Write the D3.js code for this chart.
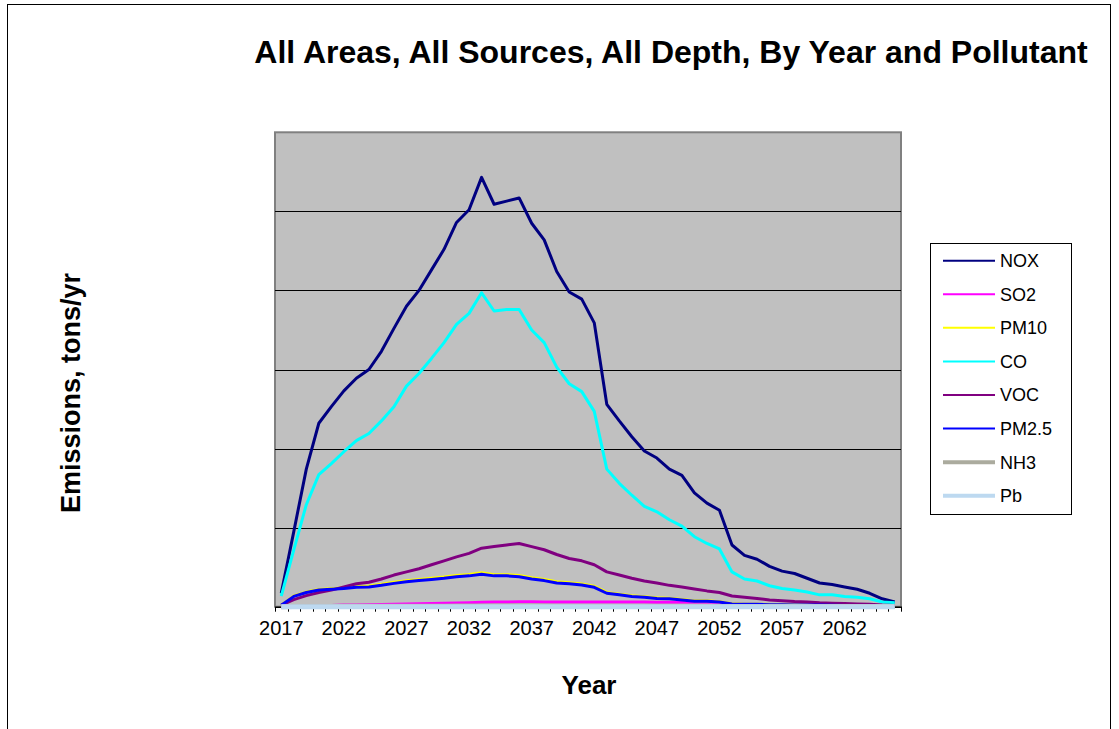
<!DOCTYPE html>
<html><head><meta charset="utf-8">
<script src="https://cdn.jsdelivr.net/npm/d3@7"></script>
<style>
html,body{margin:0;padding:0;background:#fff;}
svg{display:block;}
text{font-family:"Liberation Sans",Arial,Helvetica,sans-serif;fill:#000;}
</style></head>
<body><svg id="chart" width="1119" height="729"></svg>
<script>
const years = d3.range(2017, 2067);
const tickYears = [2017, 2022, 2027, 2032, 2037, 2042, 2047, 2052, 2057, 2062];
const seriesNames = ["NOX", "SO2", "PM10", "CO", "VOC", "PM2.5", "NH3", "Pb"];
const seriesColors = ["#000080", "#FF00FF", "#FFFF00", "#00FFFF", "#800080", "#0000FF", "#ABAB9E", "#BDD9F0"];

const NOX = [170, 950, 1740, 2320, 2530, 2730, 2890, 3000, 3230, 3520, 3800, 4000, 4260, 4520, 4860, 5020, 5430, 5090, 5130, 5170, 4850, 4640, 4240, 3980, 3890, 3590, 2560, 2350, 2150, 1970, 1880, 1740, 1660, 1440, 1310, 1220, 780, 650, 600, 510, 450, 420, 360, 300, 280, 250, 220, 170, 100, 60];
const SO2 = [0, 5, 10, 13, 16, 20, 22, 25, 28, 30, 33, 36, 40, 43, 46, 50, 55, 58, 60, 62, 62, 61, 60, 60, 60, 60, 59, 59, 58, 58, 57, 57, 56, 56, 55, 55, 15, 12, 10, 10, 9, 8, 8, 7, 6, 6, 5, 4, 3, 2];
const PM10 = [20, 135, 185, 218, 228, 240, 255, 262, 283, 308, 328, 345, 360, 376, 396, 407, 428, 405, 405, 396, 365, 345, 315, 303, 288, 258, 180, 158, 138, 127, 112, 106, 90, 75, 74, 64, 38, 32, 32, 27, 26, 23, 21, 21, 19, 16, 16, 13, 11, 9];
const CO = [135, 720, 1290, 1670, 1810, 1960, 2100, 2190, 2350, 2530, 2790, 2950, 3140, 3340, 3570, 3710, 3970, 3740, 3760, 3760, 3500, 3340, 3030, 2820, 2720, 2470, 1740, 1560, 1410, 1270, 1200, 1100, 1020, 885, 800, 730, 440, 350, 325, 265, 230, 210, 185, 150, 150, 130, 120, 100, 60, 50];
const VOC = [20, 90, 140, 180, 210, 250, 290, 310, 350, 400, 440, 480, 530, 580, 630, 675, 740, 760, 780, 800, 760, 720, 660, 610, 580, 530, 440, 400, 360, 325, 300, 270, 250, 225, 200, 180, 135, 120, 105, 85, 75, 65, 60, 50, 45, 40, 35, 30, 20, 15];
const PM25 = [20, 130, 180, 210, 220, 230, 245, 250, 270, 295, 315, 330, 345, 360, 380, 390, 410, 390, 390, 380, 350, 330, 300, 290, 275, 245, 170, 150, 130, 120, 105, 100, 85, 70, 70, 60, 35, 30, 30, 25, 25, 22, 20, 20, 18, 15, 15, 12, 10, 8];
const NH3 = [0, 2, 3, 4, 4, 5, 5, 5, 6, 6, 6, 7, 7, 7, 8, 8, 8, 8, 8, 8, 8, 8, 7, 7, 7, 7, 6, 6, 6, 6, 5, 5, 5, 5, 5, 4, 3, 3, 3, 3, 2, 2, 2, 2, 2, 2, 1, 1, 1, 1];
const Pb = [0, 0, 0, 0, 0, 0, 0, 0, 0, 0, 0, 0, 0, 0, 0, 0, 0, 0, 0, 0, 0, 0, 0, 0, 0, 0, 0, 0, 0, 0, 0, 0, 0, 0, 0, 0, 0, 0, 0, 0, 0, 0, 0, 0, 0, 0, 0, 0, 0, 0];
const seriesValues = [NOX, SO2, PM10, CO, VOC, PM25, NH3, Pb];
const seriesWidths = [3, 3, 3, 3, 3, 3, 5, 5];
const legendWidths = [2, 2, 2, 2, 2, 2, 4, 4];
const gridValues = [1000, 2000, 3000, 4000, 5000];

const svg = d3.select("#chart");
const P = {left: 275, right: 901, top: 132.3, bottom: 606.7};

// outer border
svg.append("rect").attr("x", 7.5).attr("y", 4.5).attr("width", 1103).attr("height", 740)
  .attr("fill", "#fff").attr("stroke", "#000").attr("stroke-width", 1);

const x = d3.scaleBand().domain(years).range([P.left, P.right]);
const y = d3.scaleLinear().domain([0, 6000]).range([P.bottom, P.top]);

// plot background
svg.append("rect").attr("x", P.left).attr("y", P.top)
  .attr("width", P.right - P.left).attr("height", P.bottom - P.top)
  .attr("fill", "#C0C0C0").attr("stroke", "#808080").attr("stroke-width", 2);

// gridlines
svg.append("g").selectAll("line").data(gridValues).join("line")
  .attr("x1", P.left).attr("x2", P.right)
  .attr("y1", d => Math.round(y(d)) + 0.5).attr("y2", d => Math.round(y(d)) + 0.5)
  .attr("stroke", "#000").attr("stroke-width", 1);

// x axis
const xAxis = d3.axisBottom(x).tickSize(0).tickFormat(d => tickYears.includes(d) ? d : "");
const gx = svg.append("g").attr("transform", `translate(0,${P.bottom})`).call(xAxis);
gx.select(".domain").attr("stroke", "#000").attr("stroke-width", 1.5);
gx.selectAll("text").attr("font-size", 20).attr("dy", "1.05em").attr("y", 7)
  .style("font-family", '"Liberation Sans",Arial,sans-serif');
// tick marks between categories
const bounds = years.map(d => x(d)).concat([x(years[years.length - 1]) + x.bandwidth()]);
svg.append("g").selectAll("line").data(bounds).join("line")
  .attr("x1", d => Math.round(d) + 0.5).attr("x2", d => Math.round(d) + 0.5)
  .attr("y1", P.bottom).attr("y2", P.bottom + 5)
  .attr("stroke", "#000").attr("stroke-width", 1);

// series lines
const line = d3.line().x((d, i) => x(years[i]) + x.bandwidth() / 2).y(d => y(d));
seriesValues.forEach((vals, k) => {
  svg.append("path").datum(vals).attr("d", line)
    .attr("fill", "none").attr("stroke", seriesColors[k])
    .attr("stroke-width", seriesWidths[k]).attr("stroke-linejoin", "round");
});

// titles
svg.append("text").attr("x", 671).attr("y", 63).attr("text-anchor", "middle")
  .attr("font-size", 32).attr("font-weight", "bold")
  .text("All Areas, All Sources, All Depth, By Year and Pollutant");
svg.append("text").attr("x", 589).attr("y", 694).attr("text-anchor", "middle")
  .attr("font-size", 26).attr("font-weight", "bold").text("Year");
svg.append("text").attr("transform", "translate(80,393) rotate(-90)").attr("text-anchor", "middle")
  .attr("font-size", 27).attr("font-weight", "bold").text("Emissions, tons/yr");

// legend
const lg = svg.append("g");
lg.append("rect").attr("x", 930.5).attr("y", 243.5).attr("width", 141).attr("height", 271)
  .attr("fill", "#fff").attr("stroke", "#000").attr("stroke-width", 1);
const ly = d3.scalePoint().domain(seriesNames).range([260.7, 495.7]);
seriesNames.forEach((n, k) => {
  lg.append("line").attr("x1", 943).attr("x2", 995).attr("y1", ly(n)).attr("y2", ly(n))
    .attr("stroke", seriesColors[k]).attr("stroke-width", legendWidths[k]);
  lg.append("text").attr("x", 1000).attr("y", ly(n)).attr("dy", "0.36em")
    .attr("font-size", 18).text(n);
});
</script></body></html>
